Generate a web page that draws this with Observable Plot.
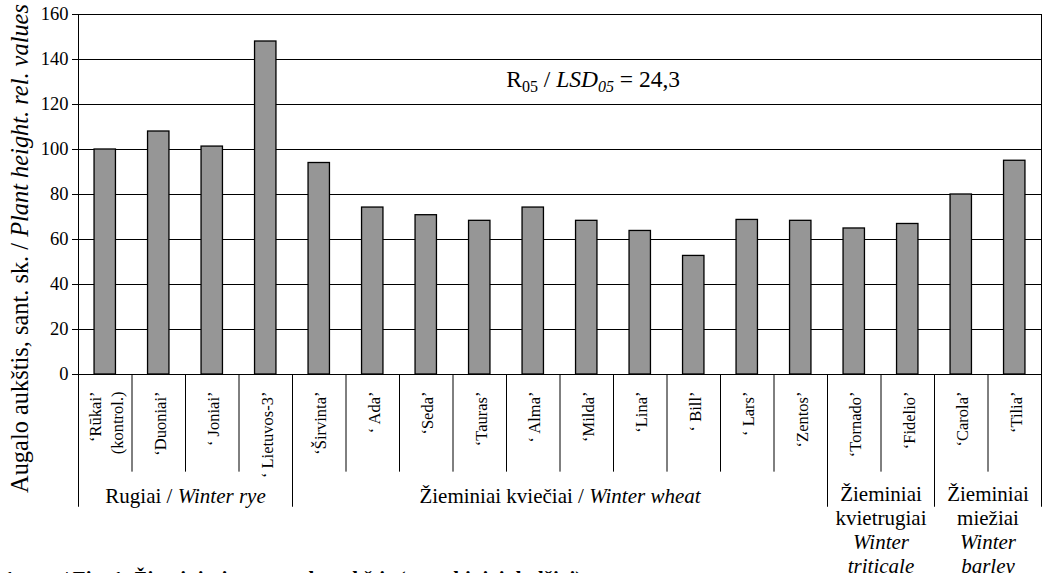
<!DOCTYPE html>
<html>
<head>
<meta charset="utf-8">
<script src="https://cdn.jsdelivr.net/npm/d3@7"></script>
<script src="https://cdn.jsdelivr.net/npm/@observablehq/plot@0.6"></script>
<style>
  html, body { margin: 0; padding: 0; background: #fff; overflow: hidden; }
  #chart { position: relative; width: 1042px; height: 573px; }
  #chart svg text { font-family: "Liberation Serif", "Times New Roman", Times, serif; }
  #caption { position: absolute; left: 4px; top: 567px; line-height: 21px; font: bold 21px "Liberation Serif", "Times New Roman", Times, serif; color: #000; white-space: nowrap; }
</style>
</head>
<body>
<div id="chart"></div>
<div id="caption">1 pav. / Fig. 1. Žieminių javų augalo aukštis (santykiniai dydžiai)</div>
<script>
// ---- data ----
const cultivars = [
  "‘Rūkai’\n(kontrol.)", "‘Duoniai’", "‘ Joniai’", "‘ Lietuvos-3’",
  "‘Širvinta’", "‘ Ada’", "‘Seda’", "‘Tauras’", "‘ Alma’", "‘Milda’",
  "‘Lina’", "‘ Bill’", "‘ Lars’", "‘Zentos’",
  "‘Tornado’", "‘Fidelio’", "‘Carola’", "‘Tilia’"
];
const heights = [100, 108, 101.3, 148, 94, 74.2, 70.8, 68.3, 74.2, 68.3, 63.8, 52.7, 68.7, 68.3, 64.9, 66.9, 80, 95];
const groupNames = [
  "Rugiai / *Winter rye*",
  "Žieminiai kviečiai / *Winter wheat*",
  "Žieminiai\nkvietrugiai\n*Winter*\n*triticale*",
  "Žieminiai\nmiežiai\n*Winter*\n*barley*"
];
const groupSizes = [4, 10, 2, 2];
const yTicks = [0, 20, 40, 60, 80, 100, 120, 140, 160];
const yLabel = "Augalo aukštis, sant. sk. / *Plant height. rel. values*";
const lsdText = "R_05_ / *LSD_05_* = 24,3";

// ---- derived tables ----
const rows = cultivars.map((name, i) => ({name, value: heights[i], i}));
let acc = 0;
const groups = groupNames.map((name, k) => {
  const start = acc; acc += groupSizes[k];
  return {name, start, end: acc, mid: (start + acc) / 2, multi: name.includes("\n")};
});
const groupBounds = [0, ...groups.map(g => g.end)];
const innerGroupBounds = groupBounds.slice(1, -1);
const outerBounds = [groupBounds[0], groupBounds[groupBounds.length - 1]];
const catBounds = d3.range(1, cultivars.length).filter(b => !groupBounds.includes(b));

const LONG = -59, SHORT = -43.4; // divider depths below the axis (y units)

const plot = Plot.plot({
  width: 1042,
  height: 573,
  marginLeft: 78,
  marginRight: 1,
  marginTop: 14,
  marginBottom: 199,
  style: {color: "#000", background: "#fff"},
  x: {domain: [0, cultivars.length], axis: null},
  y: {domain: [0, 160], axis: null},
  marks: [
    Plot.ruleY(yTicks.filter(d => d > 0), {stroke: "#000", strokeWidth: 1}),
    Plot.rectY(rows, {x1: d => d.i + 0.3, x2: d => d.i + 0.7, y: "value", fill: "#969696", stroke: "#000", strokeWidth: 1.3}),
    Plot.ruleY([0], {stroke: "#000", strokeWidth: 1}),
    Plot.ruleX(outerBounds, {y1: LONG, y2: 160, stroke: "#000", strokeWidth: 1}),
    Plot.ruleX(innerGroupBounds, {y1: LONG, y2: 0, stroke: "#000", strokeWidth: 1}),
    Plot.ruleX(catBounds, {y1: SHORT, y2: 0, stroke: "#000", strokeWidth: 1}),
    Plot.axisY({ticks: yTicks, tickSize: 6, tickPadding: 4, fontSize: 18.5, label: null, stroke: "#000"}),
    Plot.text(rows, {x: d => d.i + 0.5, y: 0, text: "name", rotate: -90, textAnchor: "end", lineAnchor: "middle",
      dy: 17, fontSize: 16.5, lineHeight: 1.3, fill: "#000"}),
    Plot.text(groups.filter(g => !g.multi), {x: "mid", y: 0, text: "name", lineAnchor: "top", dy: 114,
      fontSize: 21, fill: "#000"}),
    Plot.text(groups.filter(g => g.multi), {x: "mid", y: 0, text: "name", lineAnchor: "top", dy: 110,
      fontSize: 21, lineHeight: 1.13, fill: "#000"}),
    Plot.text([yLabel], {x: 0, y: 56, text: d => d, rotate: -90, dx: -58, fontSize: 24.4, fill: "#000"}),
    Plot.text([lsdText], {x: 9.62, y: 131, text: d => d, fontSize: 23.5, fill: "#000"})
  ]
});

// rich text: *...* italic, _..._ subscript
function richify(root) {
  root.querySelectorAll("text").forEach(t => {
    const spans = t.querySelectorAll("tspan");
    const leaves = spans.length ? [...spans] : [t];
    leaves.forEach(el => {
      const s = el.textContent;
      if (!/[*_]/.test(s)) return;
      el.textContent = "";
      let italic = false, sub = false, buf = "", shifted = false;
      const flush = () => {
        if (!buf) return;
        const ts = document.createElementNS("http://www.w3.org/2000/svg", "tspan");
        ts.textContent = buf;
        if (italic) ts.setAttribute("font-style", "italic");
        if (sub) {
          ts.setAttribute("font-size", "16px");
          if (!shifted) { ts.setAttribute("dy", "5"); shifted = true; }
        } else if (shifted) {
          ts.setAttribute("dy", "-5"); shifted = false;
        }
        el.appendChild(ts);
        buf = "";
      };
      for (const ch of s) {
        if (ch === "*") { flush(); italic = !italic; }
        else if (ch === "_") { flush(); sub = !sub; }
        else buf += ch;
      }
      flush();
    });
  });
}
richify(plot);
document.getElementById("chart").appendChild(plot);
</script>
</body>
</html>
